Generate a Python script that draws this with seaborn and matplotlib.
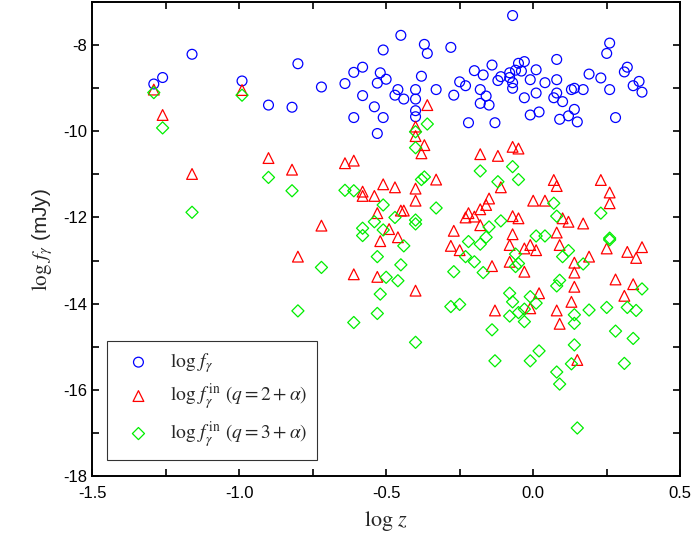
import numpy as np
import pandas as pd
import seaborn as sns
import matplotlib.pyplot as plt
from matplotlib.ticker import MultipleLocator, AutoMinorLocator

# log z and log f for the three samples
obs_z = [-1.29, -1.26, -1.16, -0.99, -0.90, -0.82, -0.80,
         -0.72, -0.64, -0.61, -0.58, -0.58, -0.61, -0.54, -0.53, -0.51, -0.52, -0.53, -0.50, -0.51,
         -0.46, -0.47, -0.44, -0.45, -0.37, -0.36, -0.38, -0.40, -0.40, -0.40, -0.40, -0.33, -0.28,
         -0.27, -0.25, -0.23, -0.22,
         -0.20, -0.17, -0.14, -0.18, -0.16, -0.18, -0.15, -0.13, -0.12, -0.11, -0.08, -0.07, -0.07,
         -0.07, -0.08, -0.06, -0.05, -0.03, -0.04, 0.01, -0.01, -0.03, 0.01, -0.01, 0.02, 0.04,
         0.08, 0.08, 0.08, 0.07, 0.10, 0.14, 0.12, 0.09, 0.15, 0.13, 0.14, 0.17, 0.19, 0.23, 0.26,
         0.25, 0.26, 0.28, 0.32, 0.31, 0.36, 0.34, 0.37]
obs_f = [-8.90, -8.75, -8.21, -8.83, -9.39, -9.44, -8.43,
         -8.97, -8.89, -8.63, -8.51, -9.17, -9.68, -9.43, -10.05, -8.11, -8.64, -8.88, -8.79, -9.68,
         -9.03, -9.16, -9.25, -7.77, -7.98, -8.19, -8.72, -9.03, -9.25, -9.52, -9.66, -9.03, -8.05,
         -9.16, -8.85, -8.94, -9.80,
         -8.59, -8.69, -8.46, -9.03, -9.18, -9.35, -9.39, -9.80, -8.82, -8.73, -8.75, -8.87, -9.00,
         -7.31, -8.64, -8.58, -8.42, -8.38, -8.60, -8.57, -8.80, -9.22, -9.11, -9.62, -9.55, -8.87,
         -8.33, -8.80, -9.11, -9.22, -9.31, -9.49, -9.64, -9.72, -9.78, -9.03, -9.00, -9.03, -8.67,
         -8.76, -7.95, -8.19, -9.03, -9.68, -8.51, -8.62, -8.84, -8.94, -9.09]

q2_z = [-1.29, -1.26, -0.99, -0.90, -1.16, -0.82, -0.72, -0.80,
        -0.36, -0.40, -0.40, -0.37, -0.38,
        -0.64, -0.61, -0.51, -0.47, -0.58, -0.58, -0.54, -0.40, -0.40, -0.33, -0.53, -0.45, -0.44,
        -0.49, -0.52, -0.46, -0.61, -0.53, -0.40,
        -0.18, -0.12, -0.07, -0.05, -0.11, -0.15, -0.16, -0.18, -0.22, -0.23, -0.20, -0.18, -0.07,
        -0.05, 0.00, 0.04, -0.27, -0.28, -0.25, -0.07, -0.08, -0.03, -0.01, 0.01, -0.14, -0.08,
        -0.03, 0.02,
        0.07, 0.08, 0.23, 0.26, 0.26, 0.10, 0.12, 0.17, 0.08, 0.09, 0.19, 0.14, 0.14, 0.25, 0.32,
        0.37, 0.35, 0.28, 0.14, 0.34, 0.31,
        -0.13, -0.01, 0.13, 0.08, 0.09, 0.15]
q2_f = [-9.03, -9.62, -9.04, -10.62, -10.99, -10.89, -12.19, -12.91,
        -9.39, -9.89, -10.11, -10.32, -10.51,
        -10.74, -10.68, -11.23, -11.30, -11.40, -11.50, -11.50, -11.33, -11.61, -11.12, -11.90,
        -11.84, -11.84, -12.27, -12.55, -12.46, -13.32, -13.38, -13.70,
        -10.53, -10.57, -10.36, -10.40, -11.30, -11.56, -11.71, -11.81, -11.90, -12.00, -11.98,
        -12.18, -11.97, -12.02, -11.61, -11.61, -12.31, -12.66, -12.76, -12.39, -12.64, -12.72,
        -12.64, -12.76, -13.13, -13.03, -13.26, -13.76,
        -11.13, -11.27, -11.13, -11.42, -11.67, -12.02, -12.10, -12.14, -12.35, -12.64, -12.91,
        -13.05, -13.28, -12.72, -12.80, -12.69, -12.94, -13.44, -13.61, -13.55, -13.82,
        -14.16, -14.11, -13.96, -14.16, -14.47, -15.31]

q3_z = [-1.29, -1.26, -0.99, -1.16, -0.90, -0.82, -0.72, -0.80,
        -0.36, -0.40, -0.40,
        -0.64, -0.61, -0.51, -0.47, -0.54, -0.51, -0.58, -0.58, -0.44, -0.53, -0.45, -0.50, -0.46,
        -0.52, -0.40, -0.40, -0.38, -0.37, -0.33,
        -0.18, -0.07, -0.05, -0.12, -0.11, -0.15, -0.16, -0.22, -0.18, -0.23, -0.20, -0.17, -0.27,
        -0.06, -0.05, -0.06, 0.01, 0.04, -0.08, -0.01,
        0.07, 0.08, 0.23, 0.12, 0.10, 0.17, 0.26, 0.26, 0.09, 0.08, 0.37,
        -0.53, -0.61, -0.40,
        -0.28, -0.25, -0.07, -0.08, -0.05, -0.03, -0.03, 0.01, -0.14, -0.13, -0.01, 0.02,
        0.14, 0.14, 0.19, 0.25, 0.32, 0.35, 0.28, 0.34, 0.14, 0.13, 0.31, 0.08, 0.09, 0.15]
q3_f = [-9.10, -9.92, -9.16, -11.88, -11.07, -11.38, -13.16, -14.17,
        -9.83, -10.01, -10.38,
        -11.37, -11.38, -11.71, -12.00, -12.10, -12.29, -12.25, -12.42, -12.66, -12.91, -13.10,
        -13.39, -13.47, -13.78, -12.06, -12.15, -11.12, -11.06, -11.78,
        -10.92, -10.82, -11.12, -11.17, -12.08, -12.22, -12.46, -12.56, -12.62, -12.91, -13.03,
        -13.28, -13.26, -12.85, -13.07, -13.14, -12.43, -12.43, -13.76, -13.84,
        -11.67, -11.97, -11.90, -12.77, -12.91, -13.08, -12.52, -12.48, -13.46, -13.59, -13.66,
        -14.23, -14.44, -14.90,
        -14.07, -14.02, -13.96, -14.29, -14.21, -14.42, -14.13, -13.99, -14.61, -15.33, -15.33,
        -15.10,
        -14.26, -14.46, -14.15, -14.09, -14.09, -14.16, -14.64, -14.81, -14.96, -15.40, -15.39,
        -15.59, -15.87, -16.89]

sns.set_style("ticks")
plt.rcParams['font.family'] = ['Liberation Sans', 'DejaVu Sans']
plt.rcParams['mathtext.fontset'] = 'stix'

fig = plt.figure(figsize=(6.92, 5.45), dpi=100)
ax = fig.add_axes([0.133, 0.127, 0.850, 0.869])

series = [
    (obs_z, obs_f, 'o', '#0000ff', 50, r'$\log\, f_\gamma$'),
    (q2_z, q2_f, '^', '#ff0000', 60, r'$\log\, f_\gamma^{\,\rm in}\ (q=2+\alpha)$'),
    (q3_z, q3_f, 'D', '#00ee00', 38, r'$\log\, f_\gamma^{\,\rm in}\ (q=3+\alpha)$'),
]
for zs, fs, mk, col, size, lab in series:
    df = pd.DataFrame({"z": zs, "f": fs})
    sns.scatterplot(data=df, x="z", y="f", marker=mk, s=size, color=col,
                    facecolors='none', edgecolor=col, linewidth=0.9, label=lab, ax=ax)

ax.set_xlim(-1.5, 0.5)
ax.set_ylim(-18, -7)
ax.xaxis.set_major_locator(MultipleLocator(0.5))
ax.xaxis.set_minor_locator(AutoMinorLocator(2))
ax.yaxis.set_major_locator(MultipleLocator(2))
ax.yaxis.set_minor_locator(AutoMinorLocator(2))
ax.tick_params(which='both', direction='in', top=True, right=True, length=5, width=1.2,
               labelsize=12, color='black', labelcolor='black')
ax.tick_params(axis='x', pad=7)
ax.xaxis.set_major_formatter(plt.FuncFormatter(lambda v, p: f"{v:.1f}"))
ax.yaxis.set_major_formatter(plt.FuncFormatter(lambda v, p: f"{int(v)}"))
for sp in ax.spines.values():
    sp.set_linewidth(1.4)
    sp.set_color('black')

ax.set_xlabel(r'$\log\, z$', fontsize=16, labelpad=6)
ax.set_ylabel(r'$\log\, f_\gamma$ (mJy)', fontsize=15, labelpad=6)

leg = ax.legend(loc='lower left', bbox_to_anchor=(0.026, 0.034), borderaxespad=0,
                fontsize=14, frameon=True, fancybox=False, edgecolor='black',
                scatterpoints=1, handlelength=2.2, handletextpad=0.5,
                labelspacing=0.35, borderpad=0.5)
leg.get_frame().set_linewidth(0.8)

fig.savefig("out.png", dpi=100)
